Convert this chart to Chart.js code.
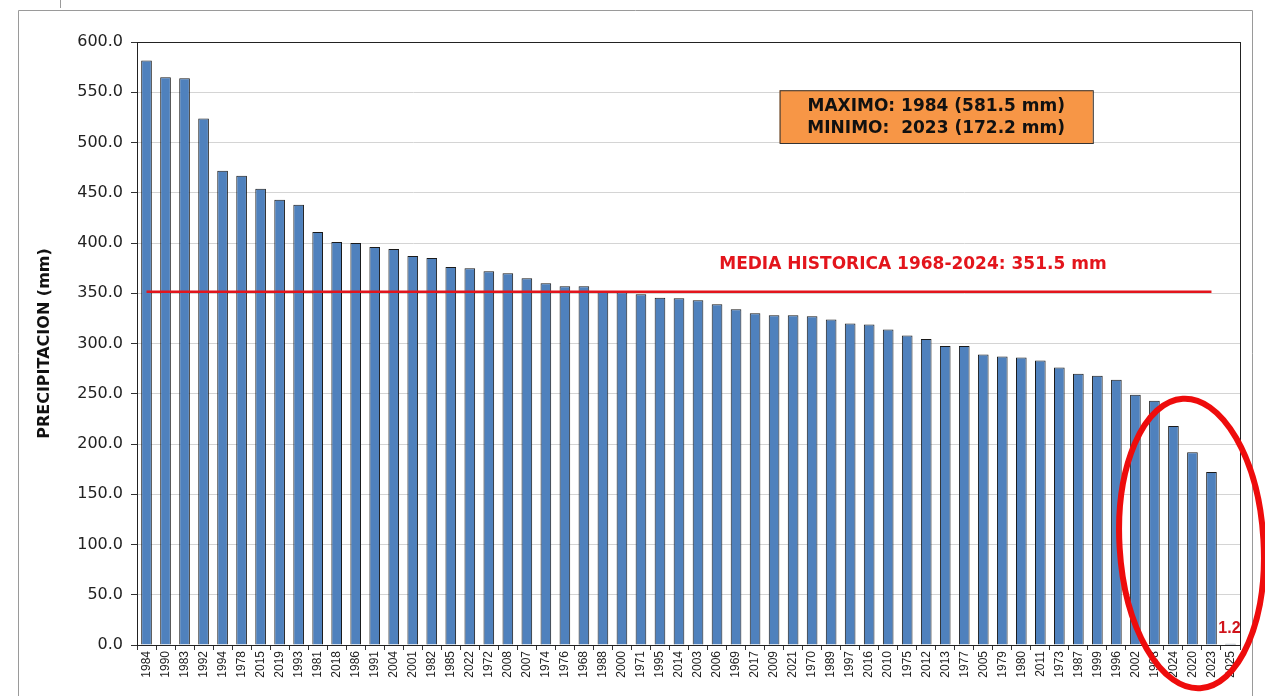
<!DOCTYPE html>
<html>
<head>
<meta charset="utf-8">
<script src="https://cdn.jsdelivr.net/npm/chart.js@4/dist/chart.umd.min.js"></script>
<style>
  html,body{margin:0;padding:0;background:#fff;}
  #wrap{width:1265px;height:696px;position:relative;}
</style>
</head>
<body>
<div id="wrap"><canvas id="c" width="1265" height="696"></canvas></div>
<script>
const years = ["1984","1990","1983","1992","1994","1978","2015","2019","1993","1981","2018","1986","1991","2004","2001","1982","1985","2022","1972","2008","2007","1974","1976","1968","1988","2000","1971","1995","2014","2003","2006","1969","2017","2009","2021","1970","1989","1997","2016","2010","1975","2012","2013","1977","2005","1979","1980","2011","1973","1987","1999","1996","2002","1998","2024","2020","2023","2025"];
const precipitation = [581.5,565,564,524,472,467,454,443,438,411,401,400,396,394,387,385,376,375,372,370,365,360,357,357,352,351,349,345.5,345,343,339,334,330,328,328,327,324,320,319,314,308,304.5,297.5,297.5,289,287,286,283,276,270,268,264,249,243,218,191.7,172.2,1.2];
const mediaHistorica = 351.5;
const mediaLabel = "MEDIA HISTORICA 1968-2024: 351.5 mm";
const boxLines = ["MAXIMO: 1984 (581.5 mm)", "MINIMO:  2023 (172.2 mm)"];
const yTicks = [0,50,100,150,200,250,300,350,400,450,500,550,600];
const highlightLabel = "1.2";

// media line spans 1968-2024 years (all but the last, 2025)
const mediaLine = years.map((y, i) => (i < years.length - 1 ? mediaHistorica : null));

const FONT = "'DejaVu Sans', sans-serif";
const FONT2 = "'Liberation Sans', Arial, sans-serif";

const decor = {
  id: 'decor',
  beforeDraw(chart) {
    const ctx = chart.ctx;
    ctx.save();
    ctx.fillStyle = '#fff';
    ctx.fillRect(0, 0, chart.width, chart.height);
    ctx.strokeStyle = '#9a9a9a';
    ctx.lineWidth = 1;
    ctx.beginPath();
    ctx.moveTo(18.5, chart.height);
    ctx.lineTo(18.5, 10.5);
    ctx.lineTo(1252.5, 10.5);
    ctx.lineTo(1252.5, chart.height);
    ctx.moveTo(60.5, 0);
    ctx.lineTo(60.5, 8);
    ctx.stroke();
    ctx.restore();
  },
  afterDatasetsDraw(chart) {
    const ctx = chart.ctx;
    const a = chart.chartArea;
    const xs = chart.scales.x, ys = chart.scales.y;
    ctx.save();
    ctx.strokeStyle = '#222';
    ctx.lineWidth = 1;
    ctx.strokeRect(Math.round(a.left) + 0.5, Math.round(a.top) + 0.5, Math.round(a.right - a.left), Math.round(a.bottom - a.top));

    // media label
    ctx.fillStyle = '#e3151c';
    ctx.font = "bold 17px " + FONT;
    ctx.textAlign = 'center';
    ctx.textBaseline = 'middle';
    ctx.fillText(mediaLabel, xs.getPixelForValue(40.3), ys.getPixelForValue(mediaHistorica + 27));

    // orange box
    const bx0 = xs.getPixelForValue(33.29), bx1 = xs.getPixelForValue(49.76);
    const by0 = ys.getPixelForValue(552), by1 = ys.getPixelForValue(499.5);
    ctx.fillStyle = '#f79646';
    ctx.fillRect(bx0, by0, bx1 - bx0, by1 - by0);
    ctx.strokeStyle = '#333';
    ctx.lineWidth = 1;
    ctx.strokeRect(bx0 + 0.5, by0 + 0.5, bx1 - bx0, by1 - by0);
    ctx.fillStyle = '#111';
    ctx.font = "bold 17px " + FONT;
    const cx = (bx0 + bx1) / 2;
    ctx.fillText(boxLines[0], cx, by0 + 16);
    ctx.fillText(boxLines[1], cx, by0 + 38);

    // value label on last bar
    const li = precipitation.length - 1;
    ctx.fillStyle = '#d0141b';
    ctx.font = "bold 16px " + FONT2;
    ctx.fillText(highlightLabel, xs.getPixelForValue(li) - 1, ys.getPixelForValue(precipitation[li] + 15));

    // red ellipse highlight
    ctx.strokeStyle = '#ee0c0c';
    ctx.lineWidth = 6;
    ctx.beginPath();
    ctx.ellipse(xs.getPixelForValue(54.95), ys.getPixelForValue(101), 72, 145, -0.06, 0, Math.PI * 2);
    ctx.stroke();
    ctx.restore();
  }
};

new Chart(document.getElementById('c'), {
  data: {
    labels: years,
    datasets: [
      {
        type: 'line',
        data: mediaLine,
        borderColor: '#e3151c',
        borderWidth: 2.5,
        pointRadius: 0,
        fill: false,
        spanGaps: false,
        order: 0
      },
      {
        type: 'bar',
        data: precipitation,
        backgroundColor: '#4f81bd',
        borderColor: '#1a1a1a',
        borderWidth: 1,
        borderSkipped: 'bottom',
        barPercentage: 0.56,
        categoryPercentage: 1.0,
        order: 1
      }
    ]
  },
  options: {
    responsive: false,
    animation: false,
    devicePixelRatio: 1,
    layout: { padding: { left: 0, top: 42, right: 25, bottom: 0 } },
    plugins: { legend: { display: false }, tooltip: { enabled: false } },
    scales: {
      x: {
        offset: true,
        afterFit(s) { s.height = 51; },
        grid: { display: true, drawOnChartArea: false, tickLength: 5, color: '#333', offset: true },
        border: { display: true, color: '#222', width: 1 },
        ticks: {
          autoSkip: false, maxRotation: 90, minRotation: 90,
          font: { family: FONT2, size: 12 }, color: '#222', padding: 1
        }
      },
      y: {
        min: 0, max: 600,
        afterFit(s) { s.width = 137; },
        afterBuildTicks(s) { s.ticks = yTicks.map(v => ({ value: v })); },
        grid: { color: '#d4d4d4', lineWidth: 1, tickLength: 6, tickColor: '#333' },
        border: { display: true, color: '#222', width: 1 },
        ticks: {
          callback: v => Number(v).toFixed(1),
          font: { family: FONT, size: 16 }, color: '#222', padding: 8
        },
        title: {
          display: true, text: 'PRECIPITACION (mm)',
          font: { family: FONT, size: 16, weight: 'bold' }, color: '#111',
          padding: { top: 35, bottom: 0 }
        }
      }
    }
  },
  plugins: [decor]
});
</script>
</body>
</html>
